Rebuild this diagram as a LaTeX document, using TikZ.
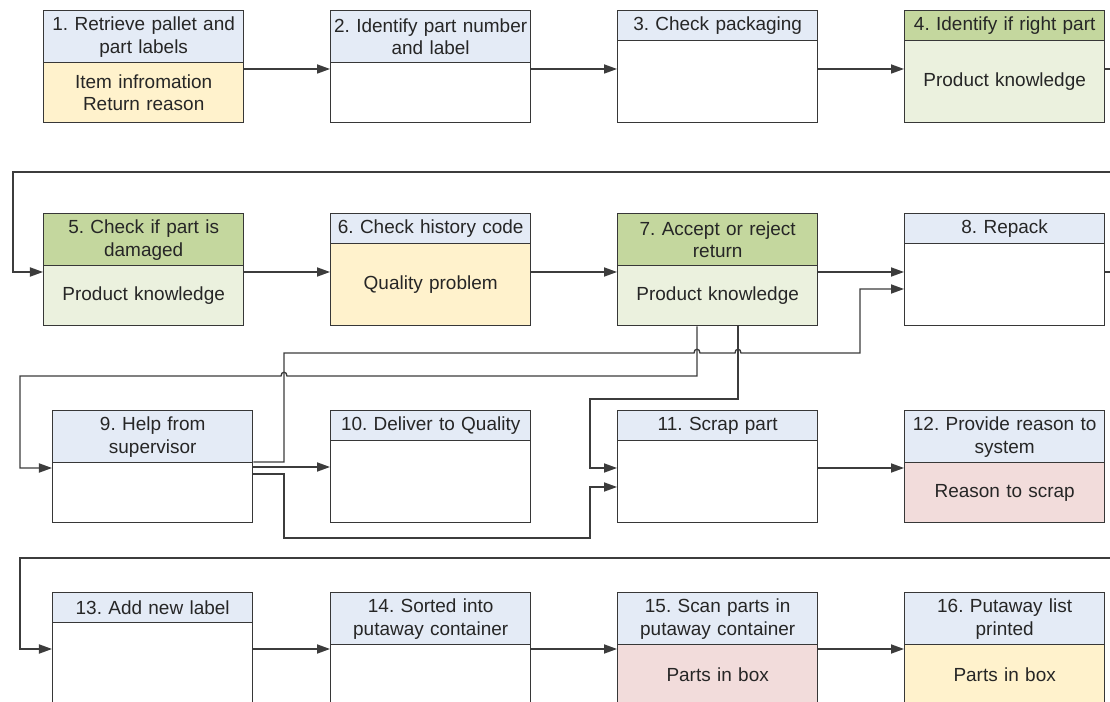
\documentclass[tikz,border=0pt]{standalone}
\usepackage{fontspec}
\setmainfont{Liberation Sans}
\usetikzlibrary{positioning,arrows.meta}
\definecolor{hdblue}{RGB}{228,235,246}
\definecolor{hdgreen}{RGB}{196,215,158}
\definecolor{bdgreen}{RGB}{235,241,222}
\definecolor{bdyellow}{RGB}{255,242,204}
\definecolor{bdpink}{RGB}{242,220,219}
\definecolor{edge}{RGB}{55,55,55}
\definecolor{wire}{RGB}{60,60,60}
\frenchspacing
\tikzset{
 head/.style={draw=edge, fill=hdblue, anchor=north west, line width=0.8pt,
   minimum width=4cm, text width=3.95cm, minimum height=0.6cm,
   inner xsep=0.025cm, inner ysep=0pt, align=center, text=black!85,
   font=\fontsize{10.8}{13}\selectfont},
 head2/.style={head, minimum height=1.04cm},
 body/.style={draw=edge, fill=white, below=-0.8pt of #1, line width=0.8pt,
   minimum width=4cm, text width=3.95cm, minimum height=1.64cm,
   inner xsep=0.025cm, inner ysep=0pt, align=center, text=black!85,
   font=\fontsize{10.8}{13}\selectfont},
 body2/.style={body=#1, minimum height=1.2cm},
 flow/.style={draw=wire, line width=0.75pt, -{Triangle[length=7.4pt,width=5.2pt]}}
}

\begin{document}
\begin{tikzpicture}[x=0.02cm,y=-0.02cm]
\clip (0,0) rectangle (1110,702);
\coordinate (r1) at (0,69);
\coordinate (r2) at (0,272);
\coordinate (r3) at (0,468);
\coordinate (r4) at (0,649);
\node[head2] (h1) at (43,10) {1. Retrieve pallet and\\part labels};
\node[body2=h1, fill=bdyellow] (b1) {Item infromation\\Return reason};
\node[head2] (h2) at (330,10) {2. Identify part number\\and label};
\node[body2=h2] (b2) {};
\node[head] (h3) at (617,10) {3. Check packaging};
\node[body=h3] (b3) {};
\node[head, fill=hdgreen] (h4) at (904,10) {4. Identify if right part};
\node[body=h4, fill=bdgreen] (b4) {Product knowledge};
\node[head2, fill=hdgreen] (h5) at (43,213) {5. Check if part is\\damaged};
\node[body2=h5, fill=bdgreen] (b5) {Product knowledge};
\node[head] (h6) at (330,213) {6. Check history code};
\node[body=h6, fill=bdyellow] (b6) {Quality problem};
\node[head2, fill=hdgreen] (h7) at (617,213) {7. Accept or reject\\return};
\node[body2=h7, fill=bdgreen] (b7) {Product knowledge};
\node[head] (h8) at (904,213) {8. Repack};
\node[body=h8] (b8) {};
\node[head2] (h9) at (52,410) {9. Help from\\supervisor};
\node[body2=h9] (b9) {};
\node[head] (h10) at (330,410) {10. Deliver to Quality};
\node[body=h10] (b10) {};
\node[head] (h11) at (617,410) {11. Scrap part};
\node[body=h11] (b11) {};
\node[head2] (h12) at (904,410) {12. Provide reason to\\system};
\node[body2=h12, fill=bdpink] (b12) {Reason to scrap};
\node[head] (h13) at (52,592) {13. Add new label};
\node[body=h13] (b13) {};
\node[head2] (h14) at (330,592) {14. Sorted into\\putaway container};
\node[body2=h14] (b14) {};
\node[head2] (h15) at (617,592) {15. Scan parts in\\putaway container};
\node[body2=h15, fill=bdpink] (b15) {Parts in box};
\node[head2] (h16) at (904,592) {16. Putaway list\\printed};
\node[body2=h16, fill=bdyellow] (b16) {Parts in box};

\draw[flow] (b1.east |- r1) -- (b2.west |- r1);
\draw[flow] (b2.east |- r1) -- (b3.west |- r1);
\draw[flow] (b3.east |- r1) -- (b4.west |- r1);
\draw[flow] (b4.east |- r1) -- (1125,69) |- (13,172) |- (b5.west |- r2);
\draw[flow] (b5.east |- r2) -- (b6.west |- r2);
\draw[flow] (b6.east |- r2) -- (b7.west |- r2);
\draw[flow] (b7.east |- r2) -- (b8.west |- r2);
\draw[flow] (b8.east |- r2) -- (1125,272) |- (20,558) |- (b13.west |- r4);
\draw[flow] (b7.south -| 697,0) -- (697,376) -- (287,376)
  .. controls (287,371) and (281,371) .. (281,376) -- (20,376) |- (b9.west |- r3);
\draw[flow] (b7.south -| 738,0) |- (590,399) |- (b11.west |- r3);
\draw[flow] (b9.east |- 0,462) -- (284,462) -- (284,353) -- (694,353)
  .. controls (694,348) and (700,348) .. (700,353) -- (735,353)
  .. controls (735,348) and (741,348) .. (741,353) -- (860,353) |- (b8.west |- 0,289);
\draw[flow] (b9.east |- 0,467) -- (b10.west |- 0,467);
\draw[flow] (b9.east |- 0,474) -| (284,538) -| (590,487) -- (b11.west |- 0,487);
\draw[flow] (b11.east |- r3) -- (b12.west |- r3);
\draw[flow] (b13.east |- r4) -- (b14.west |- r4);
\draw[flow] (b14.east |- r4) -- (b15.west |- r4);
\draw[flow] (b15.east |- r4) -- (b16.west |- r4);
\end{tikzpicture}
\end{document}
